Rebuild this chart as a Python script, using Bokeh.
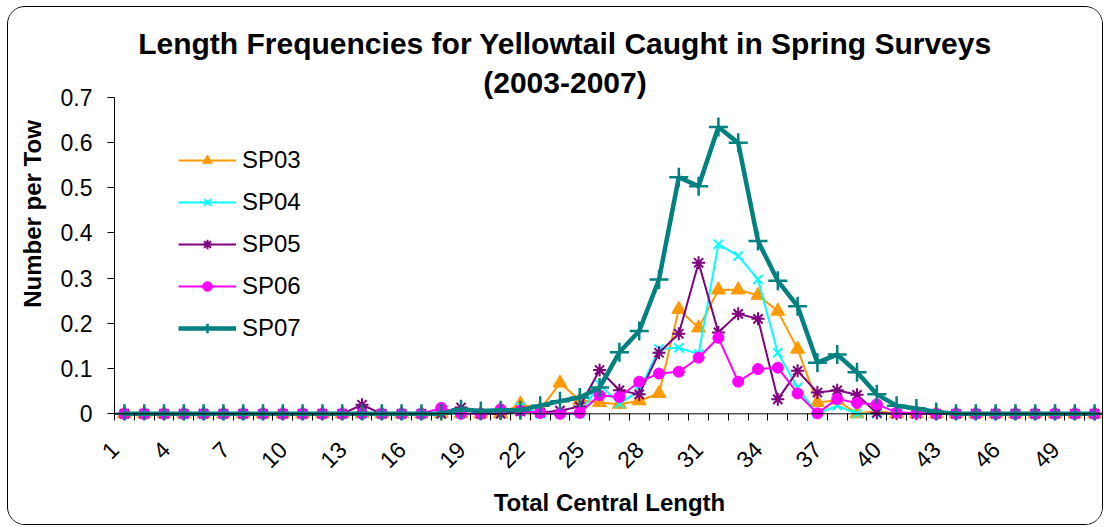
import math
from bokeh.plotting import figure
from bokeh.models import Range1d, FixedTicker, CustomJSTickFormatter, Label, Legend, LegendItem, Span
from bokeh.embed import file_html
from bokeh.resources import INLINE

# ---------------- data ----------------
categories = list(range(1, 51))
x_tick_values = [1, 4, 7, 10, 13, 16, 19, 22, 25, 28, 31, 34, 37, 40, 43, 46, 49]
x_tick_labels = ["1", "4", "7", "10", "13", "16", "19", "22", "25", "28", "31", "34",
                 "37", "40", "43", "46", "49"]
y_tick_values = [0, 0.1, 0.2, 0.3, 0.4, 0.5, 0.6, 0.7]

series_names = ["SP03", "SP04", "SP05", "SP06", "SP07"]

sp03 = [0, 0, 0, 0, 0, 0, 0, 0, 0, 0,
        0, 0, 0, 0, 0, 0, 0, 0, 0, 0,
        0.022, 0.010, 0.068, 0.030, 0.025, 0.021, 0.029, 0.045, 0.231, 0.190,
        0.274, 0.274, 0.262, 0.227, 0.143, 0.025, 0.030, 0, 0.007, 0,
        0, 0, 0, 0, 0, 0, 0, 0, 0, 0]

sp04 = [0, 0, 0, 0, 0, 0, 0, 0, 0, 0,
        0, 0, 0, 0, 0, 0, 0, 0, 0, 0,
        0.015, 0, 0, 0, 0.065, 0.022, 0.051, 0.143, 0.146, 0.132,
        0.375, 0.349, 0.297, 0.135, 0.058, 0, 0.018, 0, 0, 0,
        0, 0, 0, 0, 0, 0, 0, 0, 0, 0]

sp05 = [0, 0, 0, 0, 0, 0, 0, 0, 0, 0,
        0, 0, 0.020, 0, 0, 0, 0, 0.014, 0, 0,
        0.005, 0.003, 0.007, 0.016, 0.097, 0.052, 0.043, 0.135, 0.177, 0.334,
        0.180, 0.221, 0.210, 0.032, 0.095, 0.047, 0.052, 0.042, 0.002, 0,
        0, 0, 0, 0, 0, 0, 0, 0, 0, 0]

sp06 = [0, 0, 0, 0, 0, 0, 0, 0, 0, 0,
        0, 0, 0, 0, 0, 0, 0.013, 0, 0, 0.010,
        0.007, 0.002, 0, 0.002, 0.041, 0.037, 0.071, 0.089, 0.093, 0.124,
        0.168, 0.071, 0.099, 0.102, 0.045, 0.001, 0.033, 0.024, 0.021, 0.003,
        0.002, 0, 0, 0, 0, 0, 0, 0, 0, 0]

sp07 = [0, 0, 0, 0, 0, 0, 0, 0, 0, 0,
        0, 0, 0, 0, 0, 0, 0, 0.010, 0.006, 0.008,
        0.008, 0.018, 0.028, 0.036, 0.058, 0.136, 0.183, 0.297, 0.523, 0.503,
        0.634, 0.599, 0.382, 0.294, 0.238, 0.113, 0.131, 0.092, 0.043, 0.018,
        0.012, 0.004, 0, 0, 0, 0, 0, 0, 0, 0]

title_line1 = "Length Frequencies for Yellowtail Caught in Spring Surveys"
title_line2 = "(2003-2007)"
x_label = "Total Central Length"
y_label = "Number per Tow"

# ---------------- styles ----------------
FONT = "Liberation Sans"
styles = [
    dict(color="#FF9900", marker="triangle", size=14, lw=2, mlw=1, fill=True),
    dict(color="#00FFFF", marker="x", size=13, lw=2, mlw=2, fill=False),
    dict(color="#800080", marker="asterisk", size=13, lw=2, mlw=2, fill=False),
    dict(color="#FF00FF", marker="circle", size=11, lw=2, mlw=1, fill=True),
    dict(color="#008080", marker="cross", size=19, lw=4.5, mlw=2.5, fill=False),
]
all_series = [sp03, sp04, sp05, sp06, sp07]

X0, X1 = 0.5, 50.5
p = figure(width=1096, height=519, output_backend="svg", toolbar_location=None,
           x_range=Range1d(X0, X1), y_range=Range1d(-0.0148, 0.8983),
           min_border_left=106, min_border_right=0, min_border_top=0, min_border_bottom=106)
p.background_fill_color = "white"
p.border_fill_color = "white"
p.outline_line_color = None
p.xgrid.grid_line_color = None
p.ygrid.grid_line_color = None
p.styles = {"margin-left": "7px", "margin-top": "6px", "border": "1px solid #000",
            "border-radius": "18px", "overflow": "hidden"}

items = []
for name, vals, st in zip(series_names, all_series, styles):
    lr = p.line(categories, vals, line_color=st["color"], line_width=st["lw"])
    sr = p.scatter(categories, vals, marker=st["marker"], size=st["size"],
                   line_color=st["color"], line_width=st["mlw"],
                   fill_color=st["color"] if st["fill"] else None)
    items.append(LegendItem(label=name, renderers=[lr, sr]))

legend = Legend(items=items, location=(64, 78), orientation="vertical",
                glyph_width=58, glyph_height=24, label_height=24, spacing=14,
                label_standoff=6, padding=0, margin=0,
                border_line_color=None, background_fill_alpha=0,
                label_text_font=FONT, label_text_font_size="24px", label_text_color="black")
p.add_layout(legend, "center")

# x axis line at y = 0
p.add_layout(Span(location=0, dimension="width", line_color="black", line_width=1))

# rotated labels sit left of their category (Excel style); keep anchors inside the range
label_shift = {1: 0.91, 2: 1.0}
tick_pos = [round(max(X0, v - label_shift[len(t)]), 2) for v, t in zip(x_tick_values, x_tick_labels)]

xa = p.xaxis[0]
xa.ticker = FixedTicker(ticks=tick_pos, minor_ticks=[c - 0.5 for c in categories] + [50.5])
xa.major_label_overrides = {pos: t for pos, t in zip(tick_pos, x_tick_labels)}
xa.axis_line_color = None
xa.major_tick_line_color = None
xa.major_tick_out = 0
xa.major_tick_in = 0
xa.minor_tick_out = 0
xa.minor_tick_in = 7
xa.minor_tick_line_color = "black"
xa.major_label_orientation = math.pi / 4
xa.major_label_text_font = FONT
xa.major_label_text_font_size = "23px"
xa.major_label_text_color = "black"
xa.major_label_standoff = 25
xa.axis_label = x_label
xa.axis_label_text_font = FONT
xa.axis_label_text_font_size = "24px"
xa.axis_label_text_font_style = "bold"
xa.axis_label_text_color = "black"
xa.axis_label_standoff = 10

# y axis
ya = p.yaxis[0]
ya.bounds = (0, 0.7)
ya.ticker = FixedTicker(ticks=y_tick_values, minor_ticks=[])
ya.formatter = CustomJSTickFormatter(code="return tick == 0 ? '0' : tick.toFixed(1);")
ya.major_tick_out = 7
ya.major_tick_in = 0
ya.minor_tick_line_color = None
ya.axis_line_color = "black"
ya.major_tick_line_color = "black"
ya.major_label_text_font = FONT
ya.major_label_text_font_size = "23px"
ya.major_label_text_color = "black"
ya.major_label_standoff = 15
ya.axis_label = y_label
ya.axis_label_text_font = FONT
ya.axis_label_text_font_size = "24px"
ya.axis_label_text_font_style = "bold"
ya.axis_label_text_color = "black"
ya.axis_label_standoff = 12

# title (two lines)
for txt, yy in [(title_line1, 0.8198), (title_line2, 0.7325)]:
    p.add_layout(Label(x=23.25, y=yy, text=txt, text_align="center", text_baseline="middle",
                       text_font=FONT, text_font_size="30px", text_font_style="bold",
                       text_color="black"))

open("out.html", "w").write(file_html(p, INLINE))
